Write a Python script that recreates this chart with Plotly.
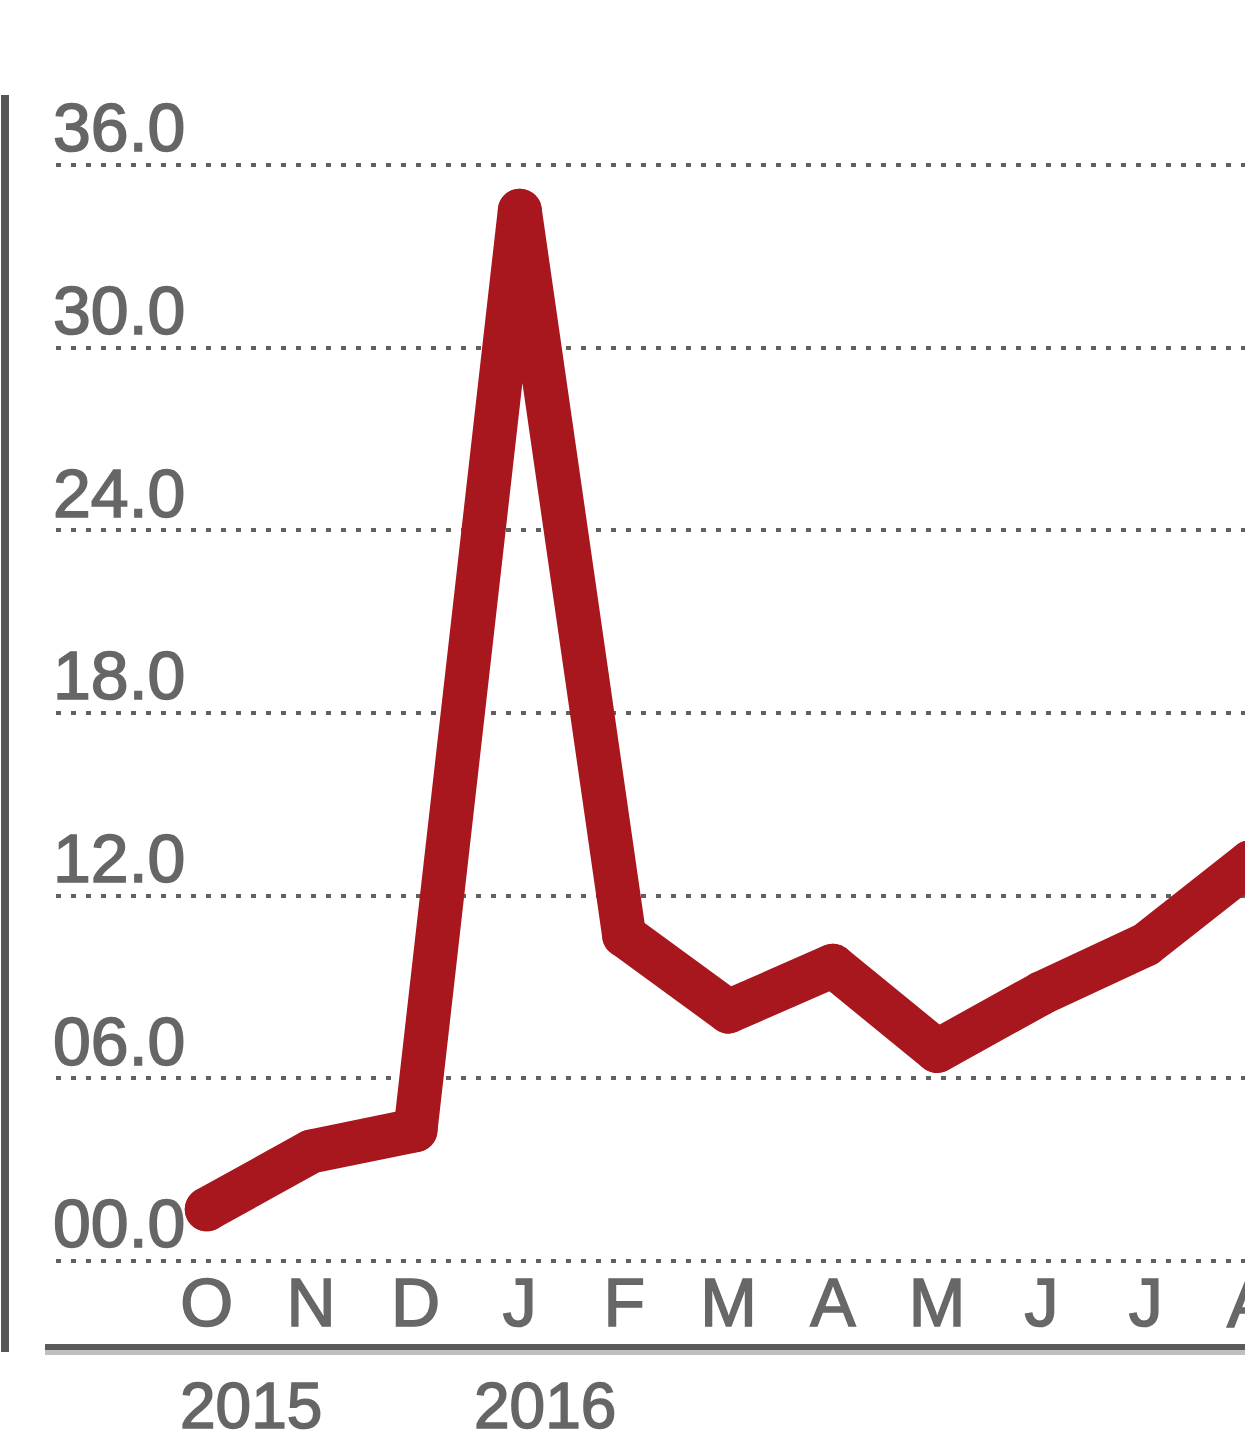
import plotly.graph_objects as go

# Data
months = ["O", "N", "D", "J", "F", "M", "A", "M", "J", "J", "A"]
values = [1.7, 3.6, 4.3, 34.5, 10.7, 8.2, 9.7, 6.9, 8.8, 10.4, 13.1]
y_ticks = [0, 6, 12, 18, 24, 30, 36]
y_tick_labels = ["00.0", "06.0", "12.0", "18.0", "24.0", "30.0", "36.0"]
years = ["2015", "2016"]
year_pos = [0.42, 3.24]

x_idx = list(range(len(months)))

W, H = 1245, 1455
L, R, T, B = 56, 0, 85, 179
ph = H - T - B
pw = W - L - R
x_range = [-1.445, 9.95]

def py(pix):
    return (H - B - pix) / ph

def px(pix):
    return (pix - L) / pw

fig = go.Figure()
fig.add_trace(go.Scatter(
    x=x_idx, y=values, mode="lines+markers",
    line=dict(color="#A8161E", width=44),
    marker=dict(color="#A8161E", size=44, line=dict(width=0)),
    hoverinfo="skip", showlegend=False,
))

font = "Liberation Sans, Arial, Helvetica, sans-serif"

fig.update_layout(
    width=W, height=H,
    margin=dict(l=L, r=R, t=T, b=B, pad=0),
    paper_bgcolor="white", plot_bgcolor="white",
    xaxis=dict(
        range=x_range,
        tickmode="array", tickvals=x_idx, ticktext=months,
        showgrid=False, zeroline=False, showline=False, ticks="",
        ticklabelstandoff=-19, ticklabeloverflow="allow",
        tickfont=dict(family=font, size=68, color="#686868"),
    ),
    yaxis=dict(
        range=[-0.49, 38.63],
        tickmode="array", tickvals=y_ticks, ticktext=y_tick_labels,
        ticklabelposition="inside top", ticklabeloverflow="allow",
        ticklabelshift=10, ticklabelstandoff=-6,
        showgrid=True, gridcolor="#606060", gridwidth=4, griddash="5px,10px",
        zeroline=False, showline=False, ticks="",
        layer="above traces",
        tickfont=dict(family=font, size=68, color="#666666"),
    ),
)

# month labels that fall just past the right edge of the axis range (cut off by the page)
for i, m in zip(x_idx, months):
    if i > x_range[1]:
        fig.add_annotation(
            x=(i - x_range[0]) / (x_range[1] - x_range[0]), y=py(1303),
            xref="paper", yref="paper", text=m, showarrow=False,
            xanchor="center", yanchor="middle",
            font=dict(family=font, size=68, color="#686868"),
        )

for yr, xp in zip(years, year_pos):
    fig.add_annotation(
        x=xp, y=py(1406), xref="x", yref="paper",
        text=yr, showarrow=False, xanchor="center", yanchor="middle",
        font=dict(family=font, size=64, color="#666666"),
    )

# decorative baseline with shadow
fig.add_shape(type="line", xref="paper", yref="paper",
              x0=px(45), x1=1.0, y0=py(1352), y1=py(1352),
              line=dict(color="rgba(0,0,0,0.25)", width=6))
fig.add_shape(type="line", xref="paper", yref="paper",
              x0=px(45), x1=1.0, y0=py(1347), y1=py(1347),
              line=dict(color="#5a5a5a", width=6))
# left vertical rule
fig.add_shape(type="line", xref="paper", yref="paper",
              x0=px(5), x1=px(5), y0=py(95), y1=py(1352),
              line=dict(color="#555555", width=8))

post = """
document.body.style.margin='0';
document.body.style.overflow='hidden';
document.querySelectorAll('.scatterlayer path.js-line').forEach(function(p){
  p.style.strokeLinejoin='round'; p.style.strokeLinecap='round';
});
document.querySelectorAll('.xtick text, .ytick text, .annotation-text').forEach(function(t){
  t.style.stroke='#666666'; t.style.strokeWidth='1.6px';
});
"""

fig.write_html("out.html", post_script=post, config={"displayModeBar": False})
